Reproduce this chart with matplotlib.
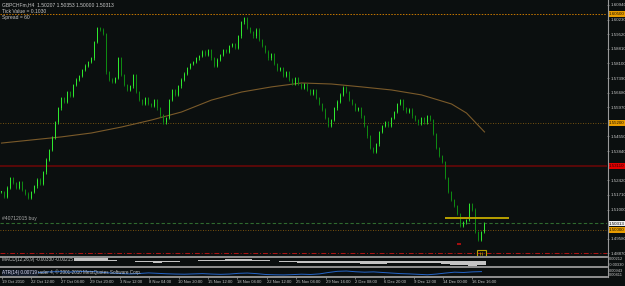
import numpy as np
import matplotlib
matplotlib.use('Agg')
import matplotlib.pyplot as plt
from matplotlib.lines import Line2D
from matplotlib.patches import Rectangle
import matplotlib.transforms as mtransforms

# ---------------- data ----------------
closes = [1.5185, 1.5161, 1.5205, 1.5253, 1.5229, 1.5205, 1.5234, 1.5195, 1.5176, 1.5156,
          1.5185, 1.5214, 1.5244, 1.5224, 1.5282, 1.5341, 1.5389, 1.5448, 1.5525, 1.5593,
          1.5642, 1.5623, 1.5671, 1.5652, 1.5705, 1.5730, 1.5749, 1.5778, 1.5798, 1.5817,
          1.5836, 1.5914, 1.5982, 1.5973, 1.5953, 1.5768, 1.5730, 1.5720, 1.5739, 1.5836,
          1.5754, 1.5705, 1.5681, 1.5700, 1.5754, 1.5671, 1.5632, 1.5613, 1.5642, 1.5613,
          1.5603, 1.5632, 1.5593, 1.5559, 1.5525, 1.5545, 1.5632, 1.5681, 1.5657, 1.5700,
          1.5730, 1.5759, 1.5788, 1.5807, 1.5817, 1.5836, 1.5846, 1.5866, 1.5851, 1.5875,
          1.5836, 1.5798, 1.5827, 1.5851, 1.5875, 1.5866, 1.5895, 1.5904, 1.5885, 1.5943,
          1.6011, 1.6031, 1.5982, 1.5963, 1.5943, 1.5973, 1.5924, 1.5895, 1.5866, 1.5836,
          1.5856, 1.5807, 1.5778, 1.5788, 1.5749, 1.5768, 1.5730, 1.5710, 1.5739, 1.5710,
          1.5691, 1.5710, 1.5681, 1.5662, 1.5681, 1.5642, 1.5613, 1.5584, 1.5545, 1.5506,
          1.5535, 1.5593, 1.5623, 1.5657, 1.5691, 1.5671, 1.5632, 1.5613, 1.5584, 1.5593,
          1.5554, 1.5506, 1.5457, 1.5399, 1.5380, 1.5418, 1.5477, 1.5506, 1.5525, 1.5506,
          1.5545, 1.5574, 1.5613, 1.5632, 1.5593, 1.5574, 1.5584, 1.5554, 1.5535, 1.5516,
          1.5545, 1.5525, 1.5554, 1.5535, 1.5467, 1.5399, 1.5360, 1.5331, 1.5253, 1.5185,
          1.5146, 1.5117, 1.5078, 1.5020, 1.5039, 1.5049, 1.5127, 1.5098, 1.4991, 1.4952,
          1.4991, 1.5031]

ma_bar_idx = [0, 10, 20, 30, 40, 50, 60, 70, 80, 90, 100, 110, 120, 130, 140, 150, 155, 161]
ma_values = [1.5423, 1.5438, 1.5453, 1.5472, 1.5501, 1.5535, 1.5574, 1.5632, 1.5671, 1.5696,
             1.5715, 1.5710, 1.5696, 1.5681, 1.5657, 1.5613, 1.5569, 1.5477]

macd_hist = [-0.0003, -0.0004, -0.0002, -0.0001, 0.0002, 0.0006,
             0.0010, 0.0014, 0.0017, 0.0019, 0.0021, 0.0018,
             0.0008, 0.0002, -0.0004, -0.0008, -0.0011, -0.0012,
             -0.0010, -0.0006, -0.0002, 0.0002, 0.0005, 0.0007,
             0.0008, 0.0010, 0.0012, 0.0011, 0.0008, 0.0004,
             -0.0001, -0.0005, -0.0009, -0.0012, -0.0014, -0.0017,
             -0.0019, -0.0018, -0.0016, -0.0017, -0.0020, -0.0022,
             -0.0021, -0.0018, -0.0015, -0.0013, -0.0012, -0.0012,
             -0.0016, -0.0022, -0.0028, -0.0032, -0.0034, -0.0033]

atr_values = [0.0062, 0.0060, 0.0058, 0.0061, 0.0066, 0.0070,
              0.0072, 0.0069, 0.0071, 0.0074, 0.0072, 0.0066,
              0.0062, 0.0058, 0.0056, 0.0059, 0.0063, 0.0060,
              0.0057, 0.0055, 0.0054, 0.0056, 0.0058, 0.0055,
              0.0053, 0.0055, 0.0060, 0.0062, 0.0058, 0.0052,
              0.0050, 0.0049, 0.0051, 0.0054, 0.0052, 0.0056,
              0.0066, 0.0074, 0.0076, 0.0071, 0.0068, 0.0070,
              0.0066, 0.0062, 0.0058, 0.0056, 0.0053, 0.0050,
              0.0055, 0.0062, 0.0068, 0.0066, 0.0070, 0.0072]

# grid price labels visible on the right scale (those hidden under coloured boxes omitted)
price_ticks = [1.60940, 1.60230, 1.59520, 1.58810, 1.58100, 1.57390, 1.56680, 1.55970,
               1.54550, 1.53840, 1.52420, 1.51710, 1.51000, 1.49580, 1.48870]
price_tick_labels = ['%.5f' % p for p in price_ticks]

time_labels = ['19 Oct 2010', '22 Oct 12:00', '27 Oct 04:00', '29 Oct 20:00', '3 Nov 12:00',
               '8 Nov 04:00', '10 Nov 20:00', '15 Nov 12:00', '18 Nov 04:00', '22 Nov 12:00',
               '25 Nov 04:00', '29 Nov 16:00', '2 Dec 08:00', '6 Dec 20:00', '9 Dec 12:00',
               '14 Dec 00:00', '16 Dec 16:00']

level_orange = [1.60500, 1.55200, 1.50000]
level_red = 1.53110
level_bid = 1.50313
level_buy = 1.50350
level_sl = 1.48890
level_yellow = 1.50610

# ---------------- style ----------------
BG = '#0b0f0f'
TXT = '#c8c8c8'
FONT = ['Liberation Sans', 'DejaVu Sans']
plt.rcParams['font.family'] = FONT
FS = 3.6      # chart info texts
FS_AX = 3.2   # axis labels

W, H = 625, 286
fig = plt.figure(figsize=(W / 100, H / 100), dpi=100)
fig.patch.set_facecolor(BG)


def box(x0, y0, x1, y1):
    return [x0 / W, 1 - y1 / H, (x1 - x0) / W, (y1 - y0) / H]


N = len(closes)
XMIN = -0.5
XMAX = -0.5 + 607 / 3.0

ax = fig.add_axes(box(0, 0, 607, 256))
ax_m = fig.add_axes(box(0, 257.5, 607, 266))
ax_a = fig.add_axes(box(0, 268, 607, 276.5))
for a in (ax, ax_m, ax_a):
    a.set_facecolor(BG)
    for s in a.spines.values():
        s.set_visible(False)
    a.set_xlim(XMIN, XMAX)
    a.set_xticks([])
    a.yaxis.tick_right()
    a.tick_params(axis='y', colors='#9a9a9a', labelcolor=TXT, labelsize=FS_AX,
                  length=1.5, width=0.5, pad=0.8)

# ---------------- main price panel ----------------
ax.set_ylim(1.48741, 1.61183)
ax.set_yticks(price_ticks)
ax.set_yticklabels(price_tick_labels)

c = np.array(closes)
o = np.r_[c[0], c[:-1]]
x = np.arange(N)
wick = 0.0007
hi = np.maximum(o, c) + wick
lo = np.minimum(o, c) - wick
up = c >= o
UPC, DNC = '#2ee82e', '#0e8a12'
ax.vlines(x[up], lo[up], hi[up], color=UPC, lw=0.6, zorder=3)
ax.vlines(x[~up], lo[~up], hi[~up], color=DNC, lw=0.6, zorder=3)
body = np.maximum(np.abs(c - o), 0.0003)
ax.bar(x[up], body[up], bottom=np.minimum(o, c)[up], width=0.62, color=UPC, lw=0, zorder=4)
ax.bar(x[~up], body[~up], bottom=np.minimum(o, c)[~up], width=0.62, color=DNC, lw=0, zorder=4)

# moving average
ax.plot(ma_bar_idx, ma_values, color='#7a5a2a', lw=0.8, zorder=2)

# horizontal levels
ax.axhline(level_orange[0], color='#c87800', lw=0.7, ls=(0, (1.5, 1.5)), zorder=1)
ax.axhline(level_orange[1], color='#9a6a10', lw=0.6, ls=(0, (1, 2)), zorder=1)
ax.axhline(level_orange[2], color='#a06a10', lw=0.6, ls=(0, (1, 2)), zorder=1)
ax.axhline(level_red, color='#5a0808', lw=1.4, zorder=1)
ax.axhline(level_buy, color='#2f6a2f', lw=0.8, ls=(0, (3, 2)), zorder=1)
ax.axhline(level_sl, color='#b01414', lw=0.7, ls=(0, (5, 2, 1, 2)), zorder=1)
ax.hlines(level_yellow, 147.8, 169.2, color='#b8a000', lw=1.4, zorder=5)

# small markers near the last bars
ax.hlines(1.4933, 151.9, 153.2, color='#c01010', lw=1.2, zorder=5)
ax.add_patch(Rectangle((158.4, 1.4875), 3.0, 0.0030, fill=False, ec='#b8a000', lw=0.8, zorder=6))
ax.vlines([159.4, 160.2], 1.4878, 1.4895, color='#b8a000', lw=0.5, zorder=6)

# right-side coloured price labels
trans = mtransforms.blended_transform_factory(ax.transAxes, ax.transData)
for p in level_orange:
    ax.text(1.003, p, '%.5f' % p, transform=trans, ha='left', va='center', fontsize=FS_AX,
            color='#1a1000', clip_on=False, zorder=10,
            bbox=dict(fc='#e89c00', ec='none', pad=0.6))
ax.text(1.003, level_red, '%.5f' % level_red, transform=trans, ha='left', va='center',
        fontsize=FS_AX, color='#300000', clip_on=False, zorder=10,
        bbox=dict(fc='#e00000', ec='none', pad=0.6))
ax.text(1.003, level_bid, '%.5f' % level_bid, transform=trans, ha='left', va='center',
        fontsize=FS_AX, color='#000000', clip_on=False, zorder=10,
        bbox=dict(fc='#f0f0f0', ec='none', pad=0.6))

# top-left info texts
ax.text(0.004, 0.99, 'GBPCHFm,H4  1.50207 1.50353 1.50000 1.50313', transform=ax.transAxes,
        ha='left', va='top', fontsize=FS, color=TXT, zorder=10)
ax.text(0.004, 0.965, 'Tick Value = 0.1030', transform=ax.transAxes,
        ha='left', va='top', fontsize=FS, color=TXT, zorder=10)
ax.text(0.004, 0.941, 'Spread = 60', transform=ax.transAxes, ha='left', va='top',
        fontsize=FS, color=TXT, zorder=10,
        bbox=dict(fc=BG, ec='none', pad=0.3))
ax.text(0.004, level_buy + 0.0008, '#40712015 buy', transform=trans, ha='left',
        va='bottom', fontsize=FS, color='#a8a8a8', zorder=10)

# ---------------- MACD panel ----------------
macd_x = np.arange(len(macd_hist)) * 3 + 1
ax_m.bar(macd_x, macd_hist, width=2.8, color='#c4c4c4', lw=0)
ax_m.set_ylim(-0.0037, 0.0024)
ax_m.set_yticks([0.0014, -0.0025])
ax_m.set_yticklabels(['0.00212', '-0.00330'])
ax_m.tick_params(axis='y', length=0, labelsize=2.9, pad=1.5)
ax_m.text(0.004, 0.72, 'MACD(12,26,9) -0.00330 -0.00215', transform=ax_m.transAxes,
          ha='left', va='center', fontsize=3.3, color=TXT, zorder=10,
          bbox=dict(fc=BG, ec='none', pad=0.2))

# ---------------- ATR panel ----------------
atr_x = np.arange(len(atr_values)) * 3 + 1
ax_a.plot(atr_x, atr_values, color='#2565c8', lw=0.7)
ax_a.set_ylim(0.0038, 0.0097)
ax_a.set_yticks([0.0082, 0.0052])
ax_a.set_yticklabels(['0.00943', '0.00411'])
ax_a.tick_params(axis='y', length=0, labelsize=2.9, pad=1.5)
ax_a.text(0.004, 0.45, 'ATR(14) 0.00719', transform=ax_a.transAxes, ha='left',
          va='center', fontsize=3.3, color='#d8d8f0', zorder=10,
          bbox=dict(fc='#141c2a', ec='none', pad=0.3))
ax_a.text(0.057, 0.45, 'Trader 4, \u00a9 2001-2010 MetaQuotes Software Corp.',
          transform=ax_a.transAxes, ha='left', va='center', fontsize=3.3, color=TXT, zorder=9)

# time axis
tick_pos = np.arange(len(time_labels)) * 9.8 + 0.2
ax_a.set_xticks(tick_pos)
ax_a.set_xticklabels(time_labels)
ax_a.tick_params(axis='x', colors='#9a9a9a', labelcolor=TXT, labelsize=3.0,
                 length=1.5, width=0.5, pad=1.2, direction='out')
for lab in ax_a.get_xticklabels():
    lab.set_ha('left')

# separators and right axis line
for yy in (256.6, 267.0, 277.2):
    fig.add_artist(Line2D([0, 607 / W], [1 - yy / H, 1 - yy / H], color='#9a9a9a', lw=1.3))
fig.add_artist(Line2D([607.5 / W, 607.5 / W], [1 - 277 / H, 1.0], color='#9a9a9a', lw=0.8))

fig.savefig('out.png', dpi=100, facecolor=BG)
